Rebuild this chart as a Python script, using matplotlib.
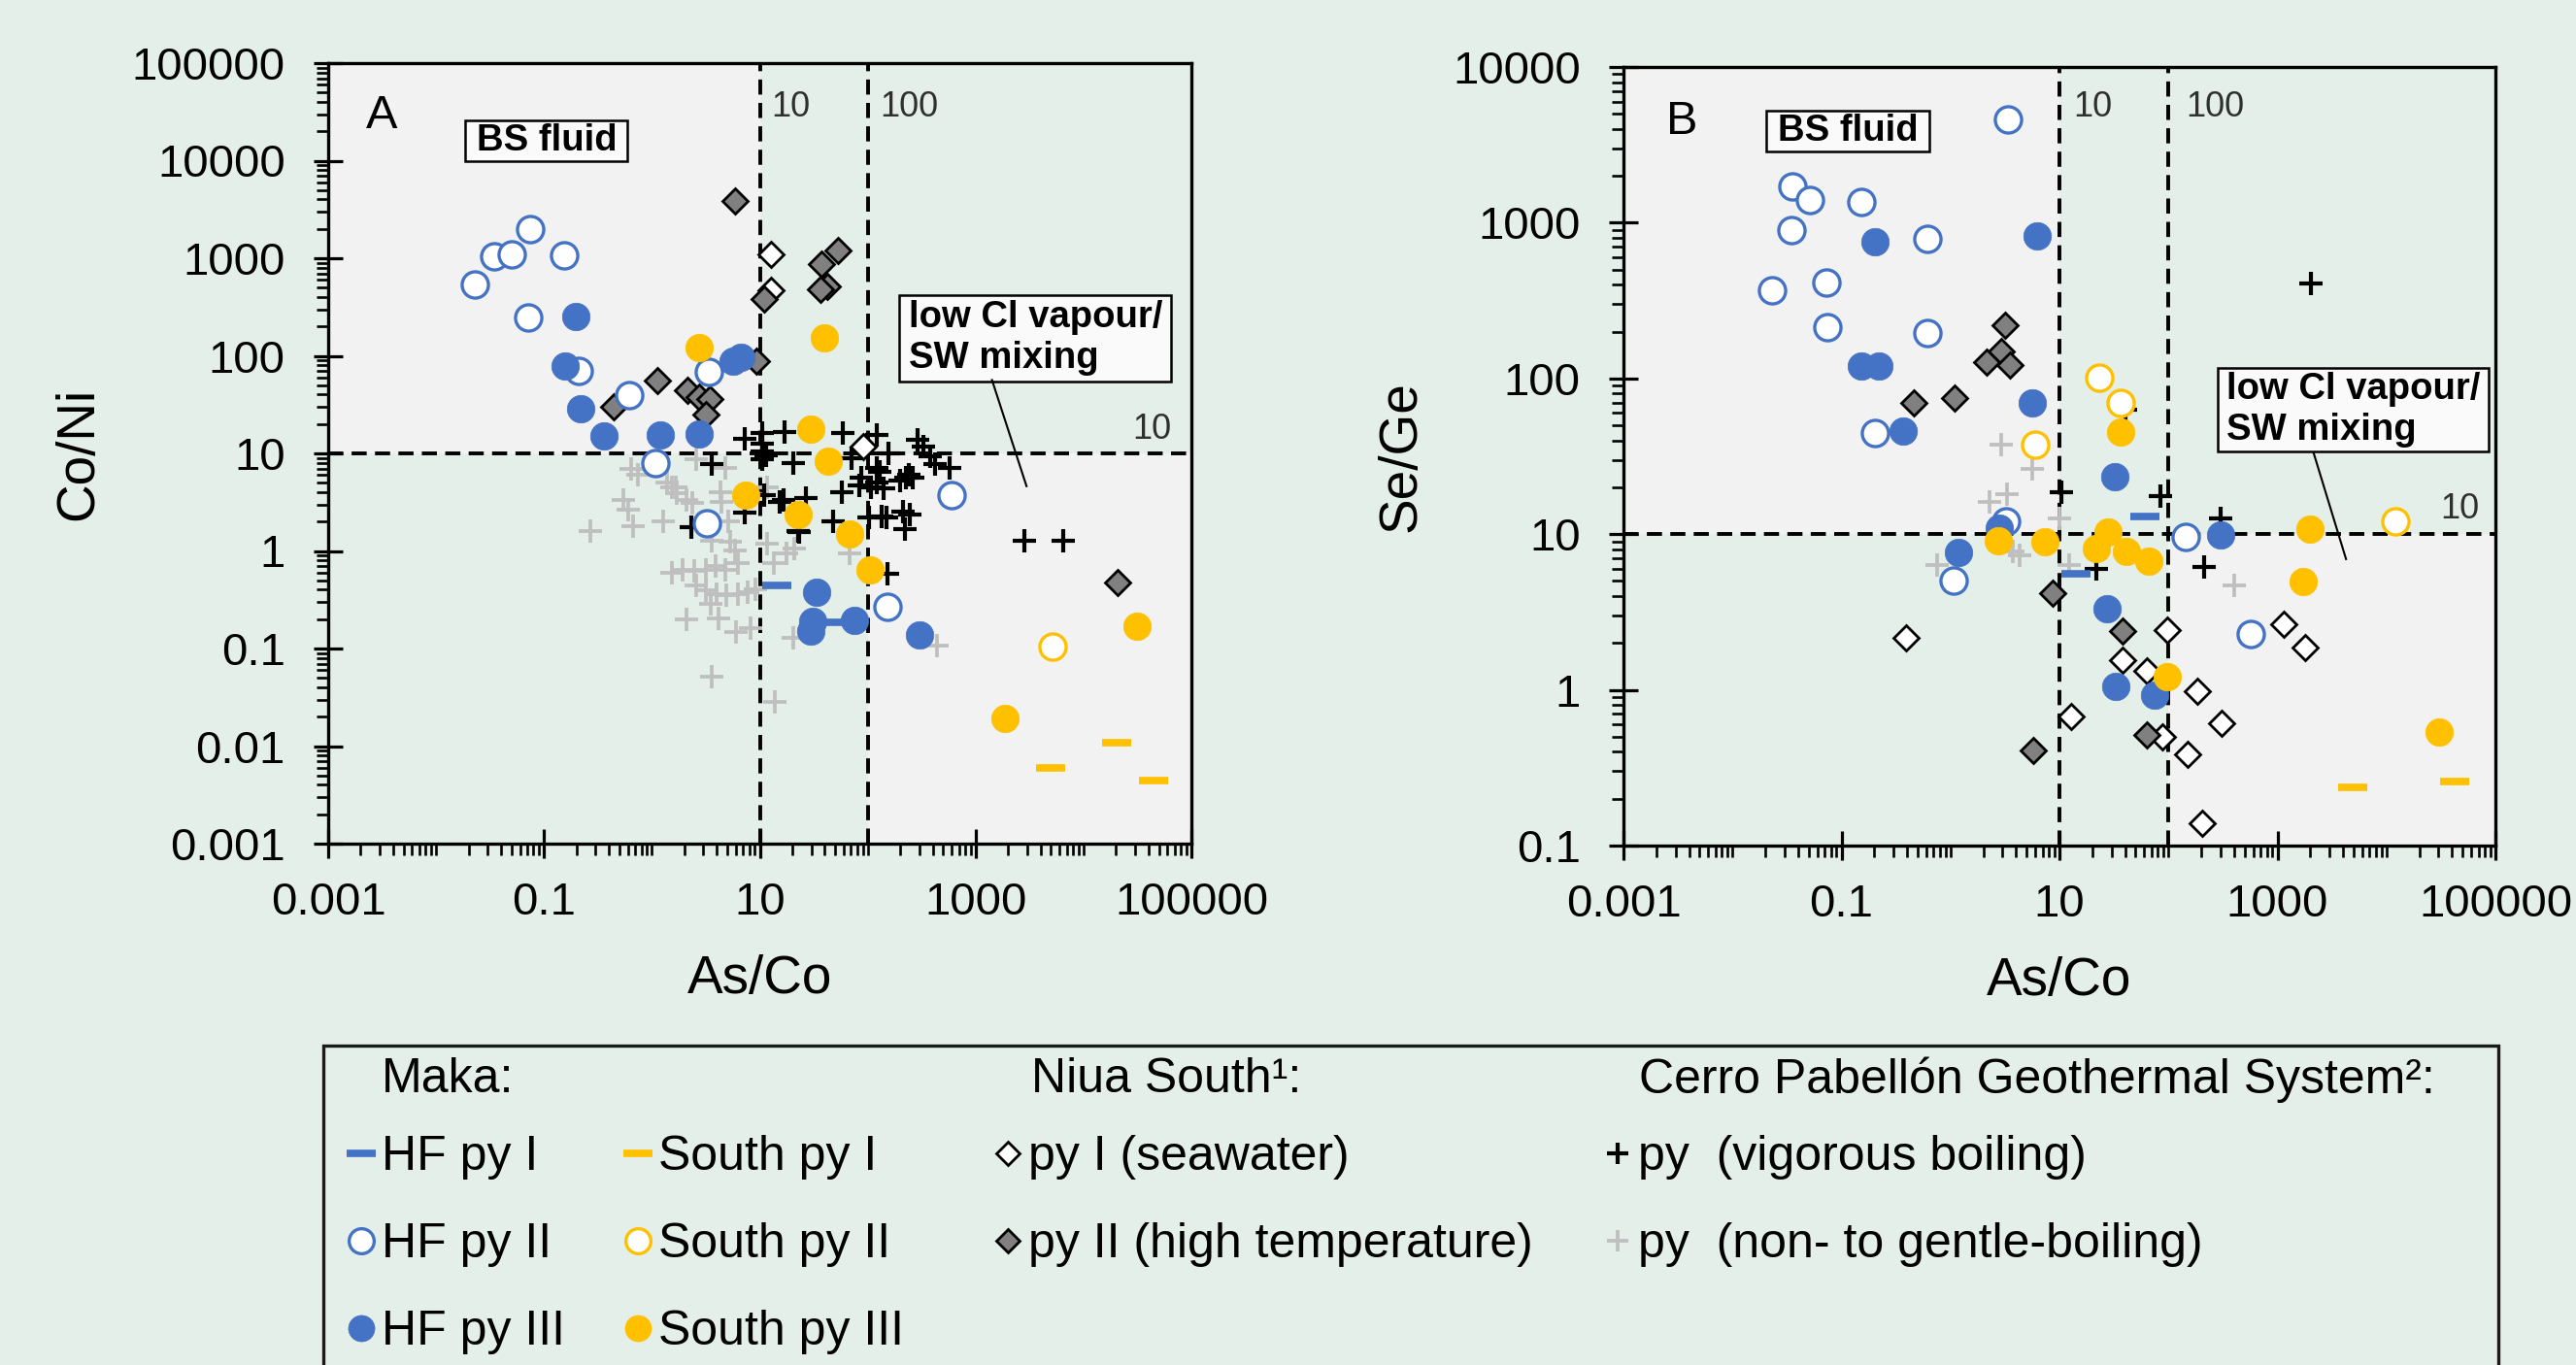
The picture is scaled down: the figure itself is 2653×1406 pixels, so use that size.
import numpy as np
import matplotlib
matplotlib.use('Agg')
import matplotlib.pyplot as plt
from matplotlib.lines import Line2D
from matplotlib.patches import Rectangle
from matplotlib.ticker import LogLocator, NullFormatter

plt.rcParams['font.family'] = ['Liberation Sans', 'DejaVu Sans']

# ---------------- Panel A data: As/Co (x) vs Co/Ni (y) ----------------
a_hf1_x = [14.4, 51.6]
a_hf1_y = [0.44, 0.185]
a_hf2_x = [0.0229, 0.0348, 0.0506, 0.0741, 0.153, 0.072, 0.208, 0.621, 3.37, 1.08, 3.26, 600, 151]
a_hf2_y = [535, 1047, 1104, 1990, 1064, 249, 70.6, 39.8, 69, 8.0, 1.91, 3.73, 0.268]
a_hf3_x = [0.199, 0.158, 0.218, 0.362, 1.2, 2.74, 5.66, 6.73, 33.6, 30.8, 29.7, 75.5, 305]
a_hf3_y = [255, 79, 28.9, 15, 15.3, 15.9, 88.7, 96, 0.377, 0.19, 0.151, 0.193, 0.138]
a_s1_x = [20100, 4990, 44700]
a_s1_y = [0.0108, 0.0060, 0.00444]
a_s2_x = [5120]
a_s2_y = [0.104]
a_s3_x = [2.74, 39.6, 29.7, 43.4, 7.46, 22.5, 68, 105, 1857, 31600]
a_s3_y = [121, 152, 17.9, 8.3, 3.73, 2.36, 1.49, 0.645, 0.0192, 0.17]
a_n1_x = [12.6, 12.6, 90.6]
a_n1_y = [1104, 467, 11.7]
a_n2_x = [5.89, 52.6, 37.2, 41.9, 36.3, 11, 9.36, 0.446, 1.13, 2.13, 2.74, 3.42, 3.15, 20800]
a_n2_y = [3890, 1210, 878, 514, 477, 380, 88.7, 29.8, 56, 44, 37.5, 36, 25, 0.48]
a_cv_x = [3.61, 2.31, 7.2, 23.3, 16.5, 26.8, 10.9, 7.2, 10.5, 10.5,
          10.5, 10.5, 11.5, 17.1, 20.3, 59.3, 122, 156, 290, 325,
          383, 425, 580, 228, 262, 199, 240, 122, 86.7, 83.7,
          122, 141, 107, 57.3, 70.5, 213, 244, 136, 150, 103,
          220, 48.2, 22.5, 15.4, 2840, 6500, 151, 129]
a_cv_y = [7.72, 1.74, 2.46, 1.55, 3.33, 3.46, 3.73, 14.2, 16, 12.7,
          10.5, 8.65, 9.5, 16.6, 8.02, 16, 15.4, 10.1, 13.7, 11.8,
          9.34, 7.7, 7.14, 5.68, 5.68, 5.27, 6.0, 7.14, 5.68, 4.7,
          5.07, 4.36, 4.52, 4.03, 9.0, 2.55, 2.36, 2.27, 2.2, 2.19,
          1.68, 2.03, 1.61, 3.21, 1.28, 1.28, 0.589, 6.5]
a_cg_x = [0.643, 0.738, 1.37, 1.52, 1.69, 2.08, 2.39, 0.541, 0.6, 0.665,
          1.28, 0.271, 2.56, 4.76, 4.3, 4.45, 3.61, 5.28, 5.86, 6.28,
          1.52, 1.94, 2.47, 3.15, 3.87, 4.76, 2.56, 3.15, 4.0, 4.93,
          6.28, 7.73, 9.18, 3.49, 2.08, 4.15, 6.07, 8.28, 3.61, 13.9,
          20.3, 11.7, 13.4, 17.7, 21, 11.7, 5.1, 68, 437, 1.67]
a_cg_y = [6.9, 6.1, 5.07, 4.52, 3.88, 3.33, 3.09, 3.33, 2.65, 1.81,
          2.03, 1.61, 8.66, 7.14, 4.03, 3.21, 1.28, 1.24, 1.02, 0.752,
          0.597, 0.645, 0.621, 0.645, 0.697, 0.645, 0.44, 0.393, 0.364, 0.35,
          0.364, 0.378, 0.408, 0.289, 0.197, 0.205, 0.146, 0.163, 0.0519, 0.0282,
          0.13, 1.19, 0.752, 0.945, 1.06, 4.52, 2.03, 0.945, 0.107, 4.52]

# ---------------- Panel B data: As/Co (x) vs Se/Ge (y) ----------------
b_hf1_x = [60.4, 14.2]
b_hf1_y = [12.9, 5.6]
b_hf2_x = [3.37, 0.0352, 0.0509, 0.153, 0.0345, 0.614, 0.0231, 0.0732, 0.0744, 0.614, 0.205, 3.24, 1.07, 145, 573]
b_hf2_y = [4630, 1718, 1400, 1355, 893, 791, 368, 413, 214, 197, 44.9, 12.1, 5.0, 9.57, 2.28]
b_hf3_x = [0.202, 6.3, 0.153, 0.22, 5.65, 0.368, 32.1, 2.8, 1.18, 27.6, 33, 75, 299]
b_hf3_y = [751, 826, 120, 120, 70, 45.7, 23.5, 10.9, 7.6, 3.33, 1.06, 0.92, 9.9]
b_s1_x = [4890, 42500]
b_s1_y = [0.238, 0.258]
b_s2_x = [23.4, 36.3, 5.96, 12000]
b_s2_y = [101, 70, 37.4, 12.1]
b_s3_x = [36.4, 1980, 1710, 30400, 97.5, 2.73, 7.35, 21.9, 27.7, 41.2, 66.4]
b_s3_y = [45.3, 10.8, 4.95, 0.536, 1.21, 9.1, 8.9, 8.1, 10.3, 7.8, 6.68]
b_n1_x = [0.394, 97.7, 1150, 1800, 38.2, 64, 183, 12.9, 306, 88.8, 149, 206]
b_n1_y = [2.15, 2.41, 2.65, 1.88, 1.55, 1.33, 0.98, 0.67, 0.61, 0.50, 0.384, 0.14]
b_n2_x = [3.15, 2.93, 2.13, 3.48, 0.465, 1.10, 8.6, 38.2, 5.77, 64]
b_n2_y = [220, 150, 128, 122, 69.7, 74.9, 4.2, 2.39, 0.406, 0.516]
b_cv_x = [2050, 10.5, 83.6, 21.7, 213, 299, 40]
b_cv_y = [408, 18.7, 17.5, 5.99, 6.15, 12.7, 63]
b_cg_x = [2.92, 5.65, 3.31, 2.3, 10.1, 0.753, 4.32, 3.76, 404, 12.4]
b_cg_y = [37.4, 26.4, 18, 16.2, 12.7, 6.37, 7.35, 7.7, 4.71, 6.37]

# ---------------- axes ticks / labels ----------------
x_ticks = [0.001, 0.1, 10, 1000, 100000]
x_tick_labels = ['0.001', '0.1', '10', '1000', '100000']
a_y_ticks = [0.001, 0.01, 0.1, 1, 10, 100, 1000, 10000, 100000]
a_y_tick_labels = ['0.001', '0.01', '0.1', '1', '10', '100', '1000', '10000', '100000']
b_y_ticks = [0.1, 1, 10, 100, 1000, 10000]
b_y_tick_labels = ['0.1', '1', '10', '100', '1000', '10000']

series_labels = ['HF py I', 'HF py II', 'HF py III',
                 'South py I', 'South py II', 'South py III',
                 'py I (seawater)', 'py II (high temperature)',
                 'py  (vigorous boiling)', 'py  (non- to gentle-boiling)']
group_headers = ['Maka:', 'Niua South\u00b9:', 'Cerro Pabell\u00f3n Geothermal System\u00b2:']

# ---------------- styling ----------------
BG = '#e3efe8'
GREY_REG = '#f2f2f2'
BLUE = '#4472c4'
GOLD = '#ffc000'
W, H = 2653, 1406

styles = {
    'hf1': dict(marker='_', color=BLUE, ms=22, mew=5.5, zorder=8),
    'hf2': dict(marker='o', mfc='white', mec=BLUE, color=BLUE, ms=19.5, mew=2.4, zorder=7),
    'hf3': dict(marker='o', color=BLUE, mec=BLUE, ms=20.5, mew=0.5, zorder=9),
    's1': dict(marker='_', color=GOLD, ms=22, mew=5.5, zorder=11),
    's2': dict(marker='o', mfc='white', mec=GOLD, color=GOLD, ms=19.5, mew=2.4, zorder=10),
    's3': dict(marker='o', color=GOLD, mec=GOLD, ms=20.5, mew=0.5, zorder=12),
    'n1': dict(marker='D', mfc='white', mec='black', color='black', ms=13, mew=2.0, zorder=5),
    'n2': dict(marker='D', mfc='#808080', mec='black', color='black', ms=13, mew=2.0, zorder=6),
    'cv': dict(marker='+', color='black', ms=17, mew=3.0, zorder=4),
    'cg': dict(marker='+', color='#bfbfbf', ms=17, mew=2.7, zorder=3),
}
order = ['hf1', 'hf2', 'hf3', 's1', 's2', 's3', 'n1', 'n2', 'cv', 'cg']

fig = plt.figure(figsize=(W / 100, H / 100), dpi=100, facecolor=BG)
axA = fig.add_axes([338 / W, 1 - 869 / H, 889 / W, 804 / H])
axB = fig.add_axes([1672 / W, 1 - 871 / H, 898 / W, 802 / H])

panels = [
    dict(ax=axA, ylim=(0.001, 100000), yt=a_y_ticks, ytl=a_y_tick_labels, ylabel='Co/Ni', letter='A',
         data={'hf1': (a_hf1_x, a_hf1_y), 'hf2': (a_hf2_x, a_hf2_y), 'hf3': (a_hf3_x, a_hf3_y),
               's1': (a_s1_x, a_s1_y), 's2': (a_s2_x, a_s2_y), 's3': (a_s3_x, a_s3_y),
               'n1': (a_n1_x, a_n1_y), 'n2': (a_n2_x, a_n2_y),
               'cv': (a_cv_x, a_cv_y), 'cg': (a_cg_x, a_cg_y)},
         ylab_x=-0.26, letter_pos=(0.0435, 0.917), bs=(0.159, 0.874, 0.188, 0.053),
         low=(0.661, 0.592, 0.315, 0.111), low_txt=(0.6725, 0.648),
         lead=((0.769, 0.594), (0.809, 0.458)),
         v10=(0.5137, 0.9316), v100=(0.6396, 0.9316), h10=(0.9764, 0.519)),
    dict(ax=axB, ylim=(0.1, 10000), yt=b_y_ticks, ytl=b_y_tick_labels, ylabel='Se/Ge', letter='B',
         data={'hf1': (b_hf1_x, b_hf1_y), 'hf2': (b_hf2_x, b_hf2_y), 'hf3': (b_hf3_x, b_hf3_y),
               's1': (b_s1_x, b_s1_y), 's2': (b_s2_x, b_s2_y), 's3': (b_s3_x, b_s3_y),
               'n1': (b_n1_x, b_n1_y), 'n2': (b_n2_x, b_n2_y),
               'cv': (b_cv_x, b_cv_y), 'cg': (b_cg_x, b_cg_y)},
         ylab_x=-0.226, letter_pos=(0.049, 0.9136), bs=(0.164, 0.892, 0.187, 0.052),
         low=(0.682, 0.506, 0.310, 0.108), low_txt=(0.6915, 0.560),
         lead=((0.7916, 0.504), (0.8287, 0.368)),
         v10=(0.516, 0.9358), v100=(0.6454, 0.9358), h10=(0.9814, 0.4197)),
]

XLIM = (0.001, 100000)
for p in panels:
    ax = p['ax']
    ax.set_facecolor(BG)
    ax.set_xscale('log')
    ax.set_yscale('log')
    ax.set_xlim(*XLIM)
    ax.set_ylim(*p['ylim'])
    # shaded quadrants
    ax.fill_between([XLIM[0], 10], 10, p['ylim'][1], color=GREY_REG, lw=0, zorder=0)
    ax.fill_between([100, XLIM[1]], p['ylim'][0], 10, color=GREY_REG, lw=0, zorder=0)
    # threshold lines
    dash = dict(color='black', lw=2.8, ls=(0, (4.0, 2.2)), zorder=2)
    ax.axvline(10, **dash)
    ax.axvline(100, **dash)
    ax.axhline(10, **dash)
    # data
    for key in order[::-1]:
        xs, ys = p['data'][key]
        ax.plot(xs, ys, ls='none', **styles[key])
    # ticks
    ax.set_xticks(x_ticks, x_tick_labels)
    ax.set_yticks(p['yt'], p['ytl'])
    ax.xaxis.set_minor_locator(LogLocator(base=10, subs=np.arange(1, 10), numticks=100))
    ax.yaxis.set_minor_locator(LogLocator(base=10, subs=np.arange(1, 10), numticks=100))
    ax.xaxis.set_minor_formatter(NullFormatter())
    ax.yaxis.set_minor_formatter(NullFormatter())
    ax.tick_params(which='major', direction='inout', length=21.6, width=2.3, labelsize=34, color='black')
    ax.tick_params(which='minor', direction='out', length=8.5, width=1.9, color='black')
    ax.tick_params(axis='x', which='major', pad=17)
    ax.tick_params(axis='y', which='major', pad=21)
    for s in ax.spines.values():
        s.set_linewidth(2.4)
        s.set_color('black')
    ax.set_xlabel('As/Co', fontsize=39.5)
    ax.set_ylabel(p['ylabel'], fontsize=39.5)
    ax.xaxis.set_label_coords(0.5, -0.142)
    ax.yaxis.set_label_coords(p['ylab_x'], 0.5)
    # annotations
    ax.text(*p['letter_pos'], p['letter'], transform=ax.transAxes, fontsize=35, va='baseline', ha='left')
    bx, by, bw, bh = p['bs']
    ax.add_patch(Rectangle((bx, by), bw, bh, transform=ax.transAxes, fc='#fafafa', ec='black', lw=1.8, zorder=15))
    ax.text(bx + bw / 2, by + bh / 2, 'BS fluid', transform=ax.transAxes, fontsize=27.5, fontweight='bold',
            ha='center', va='center', zorder=16)
    lx, ly, lw_, lh = p['low']
    ax.add_patch(Rectangle((lx, ly), lw_, lh, transform=ax.transAxes, fc='#fafafa', ec='black', lw=1.8, zorder=15))
    ax.text(*p['low_txt'], 'low Cl vapour/\nSW mixing', transform=ax.transAxes, fontsize=27.5,
            fontweight='bold', ha='left', va='center', linespacing=1.2, zorder=16)
    (x0, y0), (x1, y1) = p['lead']
    ax.plot([x0, x1], [y0, y1], transform=ax.transAxes, color='black', lw=1.5, zorder=15)
    ax.text(*p['v10'], '10', transform=ax.transAxes, fontsize=26, color='#303030', ha='left', va='baseline')
    ax.text(*p['v100'], '100', transform=ax.transAxes, fontsize=26, color='#303030', ha='left', va='baseline')
    ax.text(*p['h10'], '10', transform=ax.transAxes, fontsize=26, color='#303030', ha='right', va='baseline')

# ---------------- legend ----------------
fig.patches.append(Rectangle((333 / W, -0.05), (2573 - 333) / W, (H - 1077) / H + 0.05,
                             transform=fig.transFigure, fc='none', ec='#1a1a1a', lw=2.4))
LEG_FS = 36
header_x = [393, 1062, 1688]
for hx, txt in zip(header_x, group_headers):
    fig.text(hx / W, 1 - 1112 / H, txt, fontsize=LEG_FS, ha='left', va='center')

def handle(key):
    st = dict(styles[key])
    st.pop('zorder', None)
    return Line2D([], [], ls='none', **st)

columns = [(357, ['hf1', 'hf2', 'hf3']), (642, ['s1', 's2', 's3']),
           (1023, ['n1', 'n2']), (1651, ['cv', 'cg'])]
for cx, keys in columns:
    hs = [handle(k) for k in keys]
    ls = [series_labels[order.index(k)] for k in keys]
    fig.legend(hs, ls, loc='upper left', bbox_to_anchor=(cx / W, 1 - 1169 / H),
               bbox_transform=fig.transFigure, frameon=False, fontsize=LEG_FS,
               handlelength=0.6, handletextpad=0.12, labelspacing=0.88,
               borderpad=0, borderaxespad=0, markerscale=0.95)

fig.savefig('out.png', dpi=100, facecolor=BG)
